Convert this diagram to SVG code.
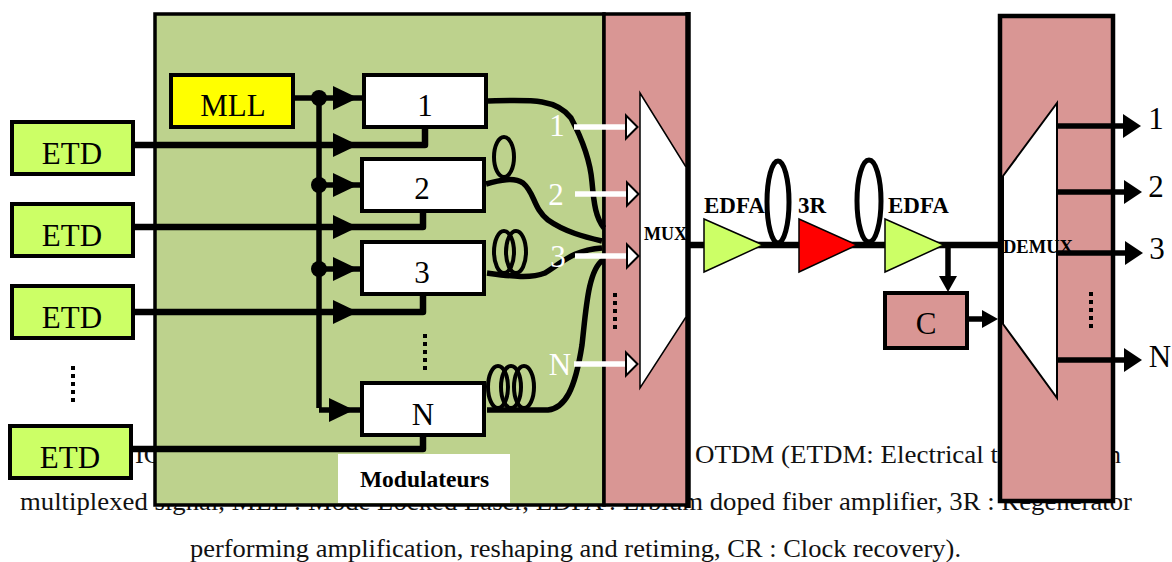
<svg xmlns="http://www.w3.org/2000/svg" width="1172" height="562" viewBox="0 0 1172 562">
<style>
text{font-family:"Liberation Serif","Times New Roman",serif;fill:#000}
.cap{font-size:26px;fill:#111}
.lab{font-size:31px;text-anchor:middle}
.wl{font-size:31px;text-anchor:middle;fill:#fff}
.b{font-weight:bold}
.box{stroke:#000;stroke-width:4}
.etd{fill:#CCFF66}
.mod{fill:#fff}
.pink{fill:#D99694}
.w{fill:none;stroke:#000;stroke-linejoin:round}
.s5{stroke-width:5.500}
.s6{stroke-width:6.500}
.fib{fill:none;stroke:#000;stroke-width:4}
.dots{fill:none;stroke:#000;stroke-width:4;stroke-dasharray:4 4}
.wa{stroke:#fff;stroke-width:5.500;fill:none}
.tri{stroke:#000;stroke-width:1.500}
</style>
<defs>
<marker id="big" markerUnits="userSpaceOnUse" markerWidth="26" markerHeight="26" refX="12" refY="12" orient="auto" overflow="visible"><polygon points="0,0 25,12 0,24"/></marker>
<marker id="out" markerUnits="userSpaceOnUse" markerWidth="20" markerHeight="26" refX="8" refY="12" orient="auto" overflow="visible"><polygon points="0,0 18,12 0,24"/></marker>
<marker id="sm" markerUnits="userSpaceOnUse" markerWidth="18" markerHeight="18" refX="6" refY="9" orient="auto" overflow="visible"><polygon points="0,0 16,9 0,18"/></marker>
<marker id="wh" markerUnits="userSpaceOnUse" markerWidth="14" markerHeight="24" refX="0" refY="11.500" orient="auto" overflow="visible"><polygon points="0,0 11.500,11.500 0,23" fill="#fff" stroke="#000" stroke-width="2"/></marker>
</defs>

<g id="caption">
<text class="cap" x="135" y="463">IC</text>
<text class="cap" x="695" y="463" textLength="303" lengthAdjust="spacingAndGlyphs">OTDM (ETDM: Electrical t</text>
<text class="cap" x="1108" y="463">n</text>
<text class="cap" x="20" y="510" textLength="1112" lengthAdjust="spacingAndGlyphs">multiplexed signal, MLL : Mode Locked Laser, EDFA : Erbium doped fiber amplifier, 3R : Regenerator</text>
<text class="cap" x="190" y="557" textLength="771" lengthAdjust="spacingAndGlyphs">performing amplification, reshaping and retiming, CR : Clock recovery).</text>
</g>

<g id="modulators-panel">
<rect x="155" y="14" width="449" height="491" fill="#BDD28D" stroke="#000" stroke-width="3.500"/>
<rect x="338" y="454" width="172" height="49" fill="#fff"/>
<text class="b" x="424.500" y="487" font-size="23.500" text-anchor="middle">Modulateurs</text>
</g>

<g id="mux">
<rect class="pink" x="604" y="14" width="84" height="491" stroke="#000" stroke-width="3.500"/>
<path d="M688 12V508" stroke="#000" stroke-width="5.500" fill="none"/>
<polygon class="tri" points="640,93 686,167 686,317 640,388" fill="#fff"/>
<text class="b" x="644" y="240" font-size="18">MUX</text>
<path class="dots" d="M615 293V329"/>
</g>

<g id="demux">
<rect class="pink" x="1000" y="16" width="113" height="485" stroke="#000" stroke-width="4.500"/>
<polygon points="1057,103 1003,176 1003,324 1057,398" fill="#fff" stroke="#000" stroke-width="2"/>
<text class="b" x="1003" y="253" font-size="18.500">DEMUX</text>
<path class="dots" d="M1091 292V328"/>
</g>

<g id="connectors">
<path class="w s5" d="M293 98H319V408"/>
<circle cx="319" cy="98" r="8"/><circle cx="319" cy="185" r="8"/><circle cx="319" cy="269" r="8"/>
<path class="w s5" d="M319 98H345" marker-end="url(#big)"/>
<path class="w s5" d="M319 185H345" marker-end="url(#big)"/>
<path class="w s5" d="M319 269H345" marker-end="url(#big)"/>
<path class="w s5" d="M319 410H341" marker-end="url(#big)"/>
<path class="w s5" d="M345 98H364M345 185H362M345 269H362M341 410H362"/>
<path class="w s6" d="M133 145H345" marker-end="url(#big)"/>
<path class="w s6" d="M345 145H425V127"/>
<path class="w s6" d="M133 227H345" marker-end="url(#big)"/>
<path class="w s6" d="M345 227H423V211"/>
<path class="w s6" d="M133 312H345" marker-end="url(#big)"/>
<path class="w s6" d="M345 312H423V294"/>
<path class="w s6" d="M131 449H423V435"/>
<path class="w s5" d="M488 101C530 100 556 98 571 118C580 135 590 158 592 182C594 205 596 218 604 228"/>
<path class="w s5" d="M486 184C500 180 514 177 523 183C535 193 533 208 548 220C565 232 585 237 602 241"/>
<path class="w s5" d="M487 273C510 276 530 279 545 273C565 260 575 250 602 248"/>
<path class="w s5" d="M487 410H548C565 408 575 390 582 345C586 310 588 270 603 260"/>
<ellipse class="fib" cx="504" cy="157" rx="10" ry="20"/>
<ellipse class="fib" cx="504" cy="252" rx="10" ry="21"/>
<ellipse class="fib" cx="516" cy="252" rx="10" ry="21"/>
<ellipse class="fib" cx="498" cy="387" rx="10" ry="21"/>
<ellipse class="fib" cx="511" cy="387" rx="10" ry="21"/>
<ellipse class="fib" cx="524" cy="387" rx="10" ry="21"/>
<path class="wa" d="M574 127H626" marker-end="url(#wh)"/>
<path class="wa" d="M575 194H627" marker-end="url(#wh)"/>
<path class="wa" d="M575 256H627" marker-end="url(#wh)"/>
<path class="wa" d="M574 364H626" marker-end="url(#wh)"/>
<path class="w s6" d="M688 245H1000"/>
<ellipse cx="778" cy="202" rx="11" ry="41" fill="none" stroke="#000" stroke-width="5"/>
<ellipse cx="869" cy="201" rx="12" ry="41" fill="none" stroke="#000" stroke-width="5"/>
<path class="w s5" d="M948 245V282" marker-end="url(#sm)"/>
<path class="w s5" d="M969 319H988" marker-end="url(#sm)"/>
<path class="w s5" d="M1057 126H1131" marker-end="url(#out)"/>
<path class="w s5" d="M1057 192H1132" marker-end="url(#out)"/>
<path class="w s5" d="M1057 253H1133" marker-end="url(#out)"/>
<path class="w s5" d="M1057 360H1132" marker-end="url(#out)"/>
</g>

<g id="etd1"><rect class="box etd" x="12" y="122" width="121" height="52"/><text class="lab" x="72" y="164">ETD</text></g>
<g id="etd2"><rect class="box etd" x="12" y="204" width="121" height="52"/><text class="lab" x="72" y="246">ETD</text></g>
<g id="etd3"><rect class="box etd" x="12" y="286" width="121" height="52"/><text class="lab" x="72" y="328">ETD</text></g>
<g id="etd4"><rect class="box etd" x="10" y="426" width="121" height="52"/><text class="lab" x="70" y="468">ETD</text></g>
<path id="etd-dots" class="dots" d="M73 366V402"/>

<g id="mll"><rect class="box" x="171" y="75" width="122" height="52" fill="#FFFF00"/><text class="lab" x="233" y="116">MLL</text></g>
<g id="mod1"><rect class="box mod" x="364" y="75" width="122" height="52"/><text class="lab" x="425" y="116">1</text></g>
<g id="mod2"><rect class="box mod" x="362" y="159" width="122" height="52"/><text class="lab" x="422" y="199">2</text></g>
<g id="mod3"><rect class="box mod" x="362" y="242" width="122" height="52"/><text class="lab" x="422" y="283">3</text></g>
<g id="modN"><rect class="box mod" x="362" y="383" width="122" height="52"/><text class="lab" x="423" y="425">N</text></g>
<path id="mod-dots" class="dots" d="M425 334V370"/>

<g id="mux-labels">
<text class="wl" x="557" y="136">1</text>
<text class="wl" x="556" y="205">2</text>
<text class="wl" x="558" y="267">3</text>
<text class="wl" x="560" y="375">N</text>
</g>

<g id="edfa1"><polygon class="tri" points="704,219 763,245 704,272" fill="#CCFF66"/><text class="b" x="704" y="213" font-size="23">EDFA</text></g>
<g id="r3"><polygon class="tri" points="799,219 857,245 799,272" fill="#FF0000"/><text class="b" x="798" y="213" font-size="23">3R</text></g>
<g id="edfa2"><polygon class="tri" points="885,219 944,245 885,272" fill="#CCFF66"/><text class="b" x="888" y="213" font-size="23">EDFA</text></g>
<g id="cr"><rect class="box pink" x="885" y="293" width="82" height="55"/><text class="lab" x="926" y="334">C</text></g>

<g id="outputs">
<text class="lab" x="1156" y="129">1</text>
<text class="lab" x="1156" y="197">2</text>
<text class="lab" x="1157" y="259">3</text>
<text class="lab" x="1160" y="367">N</text>
</g>
</svg>
